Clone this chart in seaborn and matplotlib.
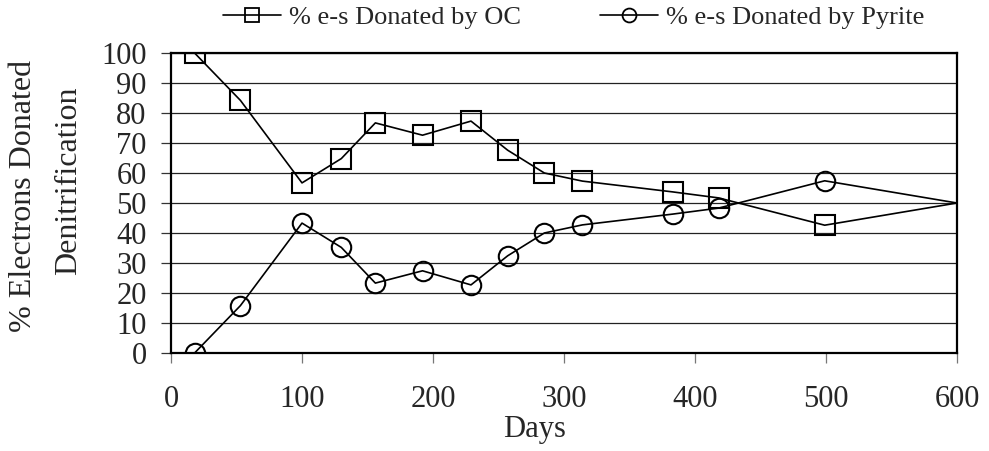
import matplotlib
matplotlib.use("Agg")
import matplotlib.pyplot as plt
import seaborn as sns
import pandas as pd
from matplotlib.lines import Line2D

days = [18, 53, 100, 130, 156, 192, 229, 257, 285, 314, 383, 418, 499, 600]
oc = [100, 84.2, 56.7, 64.8, 76.7, 72.6, 77.3, 67.6, 60.0, 57.3, 53.7, 51.7, 42.6, 50.0]
pyrite = [0, 15.8, 43.3, 35.2, 23.3, 27.4, 22.7, 32.4, 40.0, 42.7, 46.3, 48.3, 57.4, 50.0]
labels = ["% e-s Donated by OC", "% e-s Donated by Pyrite"]
ylabel_lines = ["% Electrons Donated", "Denitrification"]

df = pd.concat([
    pd.DataFrame({"Days": days, "value": oc, "series": labels[0]}),
    pd.DataFrame({"Days": days, "value": pyrite, "series": labels[1]}),
])

sns.set_style("white")
plt.rcParams["font.family"] = ["Liberation Serif", "DejaVu Serif"]

W, H = 989, 451
fig = plt.figure(figsize=(W/100, H/100), dpi=100)
ax = fig.add_axes([171/W, 1-353/H, (957-171)/W, (353-53)/H])

sns.lineplot(data=df, x="Days", y="value", style="series",
             markers={labels[0]: "s", labels[1]: "o"}, dashes=False,
             color="black", ax=ax, legend=False, linewidth=1.2,
             markersize=14, markeredgewidth=1.5, markerfacecolor="none",
             markeredgecolor="black", zorder=3)

n = len(days)
for ln in ax.get_lines():
    ln.set_markevery(list(range(n - 1)))

ax.set_xlim(0, 600)
ax.set_ylim(0, 100)
ax.set_xticks(range(0, 601, 100))
ax.set_yticks(range(0, 101, 10))
ax.yaxis.grid(True, color="#222222", linewidth=0.9)
ax.set_axisbelow(True)
for s in ax.spines.values():
    s.set_visible(True)
    s.set_color("black")
    s.set_linewidth(1.6)

ax.tick_params(axis="y", direction="out", length=7, width=0.9, color="#333333",
               labelsize=22, pad=10.5, left=True)
ax.tick_params(axis="x", direction="out", length=7, width=0.9, color="#777777",
               labelsize=22, pad=16, bottom=True)

ax.set_xlabel("Days", fontsize=22)
ax.xaxis.set_label_coords((535-171)/786, -(415-353)/300)
ax.set_ylabel("")

fig.text(24/W, 1-196/H, ylabel_lines[0], fontsize=23, rotation=90,
         ha="center", va="center")
fig.text(69/W, 1-181/H, ylabel_lines[1], fontsize=23, rotation=90,
         ha="center", va="center")

handles = [
    Line2D([], [], color="black", lw=1.2, marker="s", markersize=10,
           markerfacecolor="none", markeredgecolor="black", markeredgewidth=1.3),
    Line2D([], [], color="black", lw=1.2, marker="o", markersize=10,
           markerfacecolor="none", markeredgecolor="black", markeredgewidth=1.3),
]
fig.legend(handles, labels, loc="center", bbox_to_anchor=(574/W, 1-17/H),
           ncol=2, frameon=False, fontsize=19, handlelength=2.2,
           handletextpad=0.3, columnspacing=3.0)

fig.savefig("out.png", dpi=100)
